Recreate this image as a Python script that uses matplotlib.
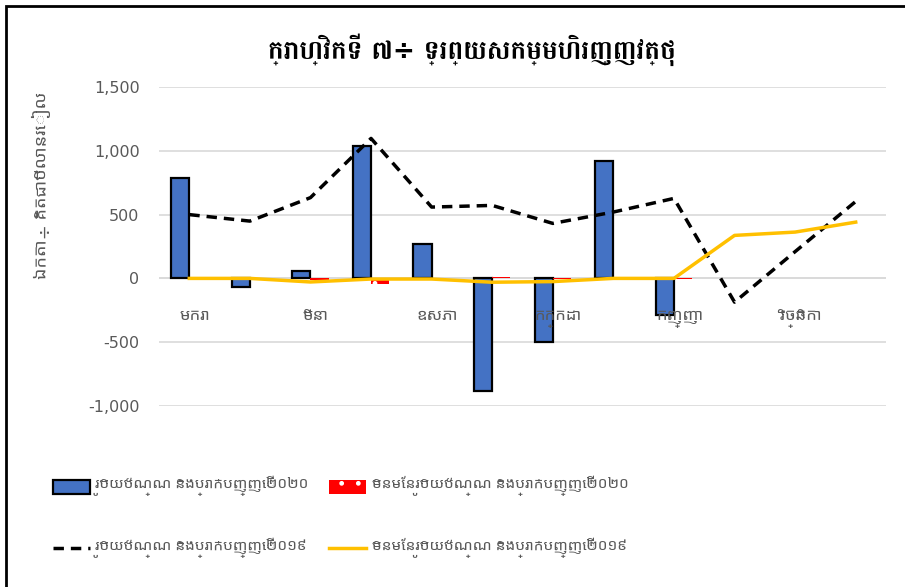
import numpy as np
import matplotlib
matplotlib.use('Agg')
import matplotlib.pyplot as plt
from matplotlib.patches import Rectangle

# data (billion riel)
months = ['មករា', 'កុម្ភៈ', 'មីនា', 'មេសា', 'ឧសភា', 'មិថុនា',
          'កក្កដា', 'សីហា', 'កញ្ញា', 'តុលា', 'វិច្ឆិកា', 'ធ្នូ']
currency_2020 = [789, -68, 57, 1037, 266, -886, -499, 919, -290,
                 np.nan, np.nan, np.nan]
non_currency_2020 = [0, 0, -10, -40, 0, 8, -8, 0, -5,
                     np.nan, np.nan, np.nan]
currency_2019 = [500, 449, 633, 1097, 559, 572, 431, 520, 627, -186, 210, 603]
non_currency_2019 = [0, 0, -28, -5, -5, -30, -25, 0, 0, 337, 363, 441]

title = 'ក្រាហ្វិកទី ៧÷ ទ្រព្យសកម្មហិរញ្ញវត្ថុ'
ylabel = 'ឯកតា÷ គិតជាប៊ីលានរៀល'
labels = ['រូបិយប័ណ្ណ និងប្រាក់បញ្ញើ ២០២០',
          'មិនមែនរូបិយប័ណ្ណ និងប្រាក់បញ្ញើ ២០២០',
          'រូបិយប័ណ្ណ និងប្រាក់បញ្ញើ ២០១៩',
          'មិនមែនរូបិយប័ណ្ណ និងប្រាក់បញ្ញើ ២០១៩']

plt.rcParams['font.family'] = ['Noto Sans Khmer UI', 'DejaVu Sans']
title_font = ['Battambang', 'DejaVu Sans']

grey = '#595959'
W, H = 905, 587
fig = plt.figure(figsize=(W / 100, H / 100), dpi=100)
ax = fig.add_axes([159 / W, 1 - 406 / H, (886 - 159) / W, (406 - 87) / H])

x = np.arange(len(months))
bw = 0.3
b1 = ax.bar(x - bw / 2, currency_2020, bw, color='#4472C4', edgecolor='black',
            linewidth=1.6, zorder=2)
b2 = ax.bar(x + bw / 2, non_currency_2020, bw, color='#FF0000',
            edgecolor='white', linewidth=0, hatch='.', zorder=2)
l1, = ax.plot(x, currency_2019, color='black', linestyle=(0, (3, 2)),
              linewidth=2.5, zorder=3)
l2, = ax.plot(x, non_currency_2019, color='#FFC000', linewidth=2.5, zorder=3)

ax.set_xlim(-0.5, len(months) - 0.5)
ax.set_ylim(-1000, 1500)
ax.set_yticks(np.arange(-1000, 1501, 500))
ax.set_yticklabels([f'{v:,}' for v in range(-1000, 1501, 500)],
                   fontsize=11.5, color=grey, family='DejaVu Sans')
ax.tick_params(axis='y', length=0, pad=14)
ax.set_xticks([])
ax.grid(axis='y', color='#D9D9D9', linewidth=1.2, zorder=0)
ax.axhline(0, color='#D9D9D9', linewidth=1.2, zorder=1)
for s in ax.spines.values():
    s.set_visible(False)

# month labels sit under the zero line, every other one shown
for i in range(0, len(months), 2):
    ax.annotate(months[i], xy=(x[i], 0), xytext=(4, -29),
                textcoords='offset points', ha='center', va='center',
                fontsize=12, color=grey)

fig.text(472 / W, 1 - 50 / H, title, ha='center', va='center',
         fontsize=19, fontweight='bold', color='black', family=title_font)
fig.text(45 / W, 1 - 185 / H, ylabel, ha='center', va='center',
         rotation=90, fontsize=13, color=grey)

leg_kw = dict(loc='center left', frameon=False, fontsize=11,
              labelcolor=grey, handlelength=2.4, handleheight=1.0,
              handletextpad=0.4, labelspacing=2.7, borderpad=0,
              borderaxespad=0)
fig.legend([b1, l1], [labels[0], labels[2]],
           bbox_to_anchor=(53 / W, 1 - 517 / H), **leg_kw)
fig.legend([b2, l2], [labels[1], labels[3]],
           bbox_to_anchor=(329 / W, 1 - 517 / H), **leg_kw)

# chart frame (cut off at right and bottom)
fig.patches.append(Rectangle((6 / W, -0.1), 1.2, 1 - 6 / H + 0.1,
                             transform=fig.transFigure, fill=False,
                             edgecolor='black', linewidth=2))

fig.savefig('out.png', dpi=100)
